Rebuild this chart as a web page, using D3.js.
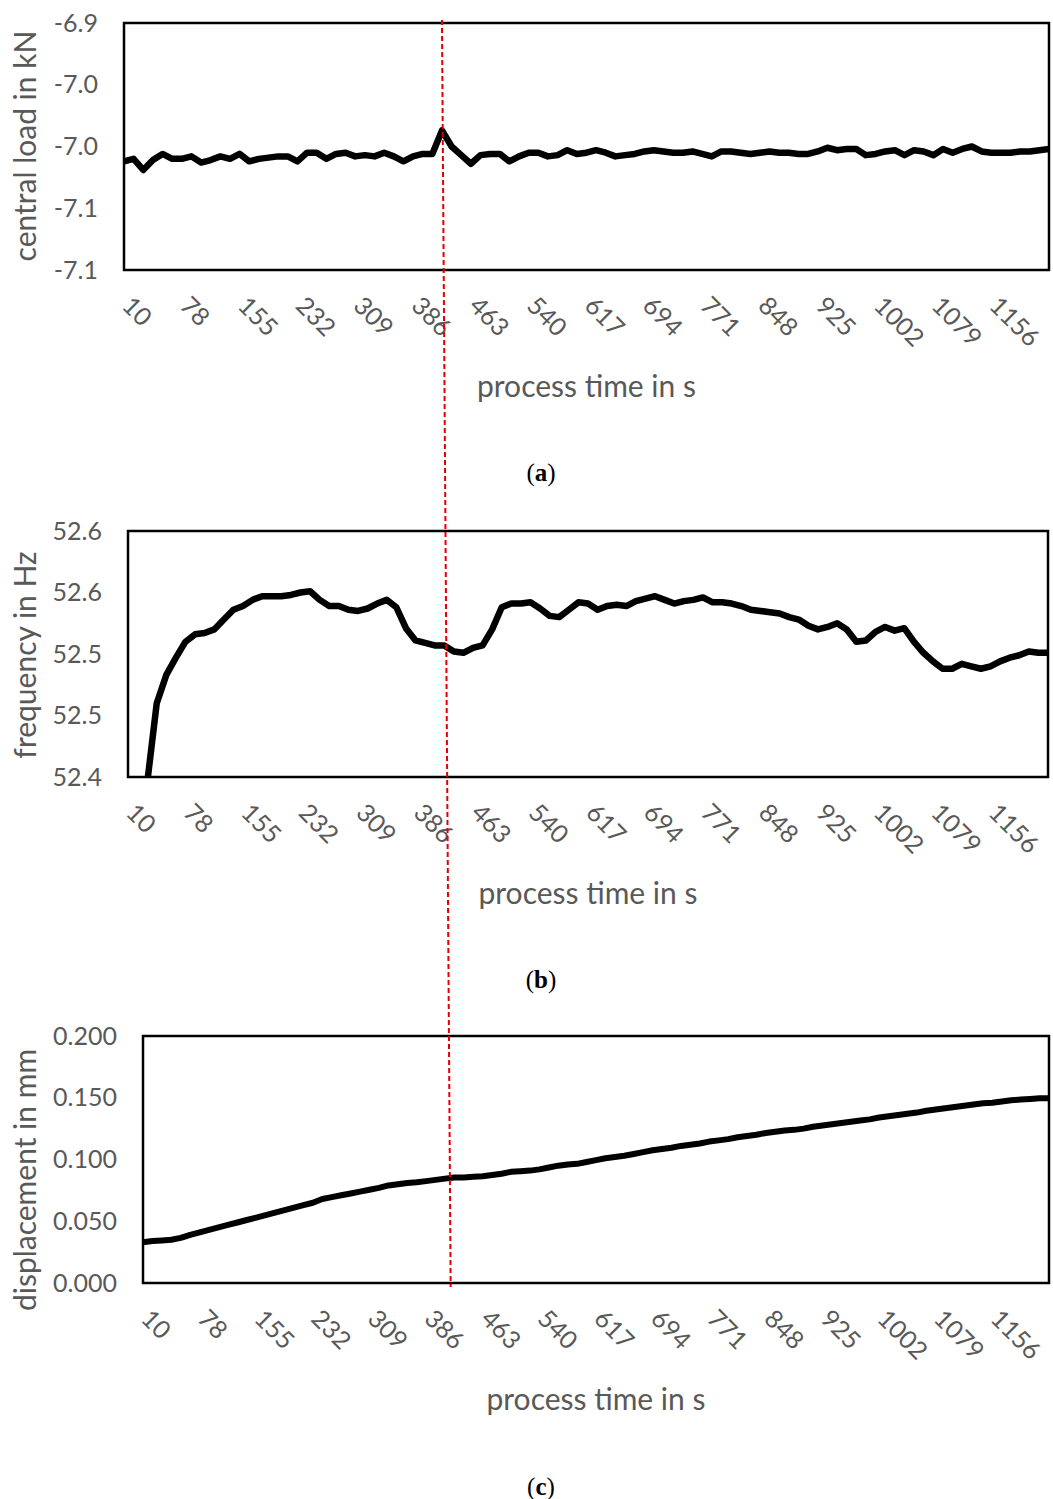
<!DOCTYPE html>
<html>
<head>
<meta charset="utf-8">
<script src="https://cdn.jsdelivr.net/npm/d3@7"></script>
<style>
  body { margin: 0; background: #fff; }
  svg { display: block; }
</style>
</head>
<body>
<div id="chart"></div>
<script>
// Category labels on the time axis (one label every 6 samples)
var timeLabels = ["10", "78", "155", "232", "309", "386", "463", "540", "617",
  "694", "771", "848", "925", "1002", "1079", "1156"];
var labelStep = 6;

// (a) central load in kN
var loadValues = [
  -7.012, -7.010, -7.019, -7.011, -7.006, -7.010, -7.010, -7.008, -7.013, -7.011,
  -7.008, -7.010, -7.006, -7.012, -7.010, -7.009, -7.008, -7.008, -7.012, -7.005,
  -7.005, -7.010, -7.006, -7.005, -7.008, -7.007, -7.008, -7.005, -7.008, -7.012,
  -7.008, -7.006, -7.006, -6.987, -7.000, -7.007, -7.014, -7.007, -7.006, -7.006,
  -7.012, -7.008, -7.005, -7.005, -7.008, -7.007, -7.003, -7.006, -7.005, -7.003,
  -7.005, -7.008, -7.007, -7.006, -7.004, -7.003, -7.004, -7.005, -7.005, -7.004,
  -7.006, -7.008, -7.004, -7.004, -7.005, -7.006, -7.005, -7.004, -7.005, -7.005,
  -7.006, -7.006, -7.004, -7.001, -7.003, -7.002, -7.002, -7.007, -7.006, -7.004,
  -7.003, -7.007, -7.003, -7.004, -7.007, -7.002, -7.005, -7.002, -7.000, -7.004,
  -7.005, -7.005, -7.005, -7.004, -7.004, -7.003, -7.002
];
var loadTicks = [-7.10, -7.05, -7.00, -6.95, -6.90];
var loadTickLabels = ["-7.1", "-7.1", "-7.0", "-7.0", "-6.9"];

// (b) frequency in Hz
var freqValues = [
  51.600, 52.000, 52.395, 52.460, 52.483, 52.497, 52.510, 52.516, 52.517, 52.520,
  52.528, 52.536, 52.539, 52.544, 52.547, 52.547, 52.547, 52.548, 52.550, 52.551,
  52.544, 52.539, 52.539, 52.536, 52.535, 52.537, 52.541, 52.544, 52.538, 52.521,
  52.511, 52.509, 52.507, 52.507, 52.502, 52.501, 52.505, 52.507, 52.520, 52.538,
  52.541, 52.541, 52.542, 52.537, 52.531, 52.530, 52.536, 52.542, 52.541, 52.536,
  52.539, 52.540, 52.539, 52.543, 52.545, 52.547, 52.544, 52.541, 52.543, 52.544,
  52.546, 52.542, 52.542, 52.541, 52.539, 52.536, 52.535, 52.534, 52.533, 52.530,
  52.528, 52.523, 52.520, 52.522, 52.525, 52.520, 52.510, 52.511, 52.518, 52.522,
  52.519, 52.521, 52.510, 52.501, 52.494, 52.488, 52.488, 52.492, 52.490, 52.488,
  52.490, 52.494, 52.497, 52.499, 52.502, 52.501, 52.501
];
var freqTicks = [52.40, 52.45, 52.50, 52.55, 52.60];
var freqTickLabels = ["52.4", "52.5", "52.5", "52.6", "52.6"];

// (c) displacement in mm
var dispValues = [
  0.0330, 0.0340, 0.0345, 0.0350, 0.0365, 0.0390, 0.0410, 0.0430, 0.0450, 0.0470,
  0.0490, 0.0510, 0.0530, 0.0550, 0.0570, 0.0590, 0.0610, 0.0630, 0.0650, 0.0680,
  0.0695, 0.0710, 0.0725, 0.0740, 0.0755, 0.0770, 0.0790, 0.0800, 0.0810, 0.0815,
  0.0825, 0.0835, 0.0845, 0.0855, 0.0855, 0.0860, 0.0865, 0.0875, 0.0885, 0.0900,
  0.0905, 0.0910, 0.0920, 0.0935, 0.0950, 0.0960, 0.0965, 0.0980, 0.0995, 0.1010,
  0.1020, 0.1030, 0.1045, 0.1060, 0.1075, 0.1085, 0.1095, 0.1110, 0.1120, 0.1130,
  0.1145, 0.1155, 0.1165, 0.1180, 0.1190, 0.1200, 0.1215, 0.1225, 0.1235, 0.1240,
  0.1250, 0.1265, 0.1275, 0.1285, 0.1295, 0.1305, 0.1315, 0.1325, 0.1340, 0.1350,
  0.1360, 0.1370, 0.1380, 0.1395, 0.1405, 0.1415, 0.1425, 0.1435, 0.1445, 0.1455,
  0.1460, 0.1470, 0.1480, 0.1485, 0.1490, 0.1495, 0.1495
];
var dispTicks = [0.000, 0.050, 0.100, 0.150, 0.200];
var dispTickLabels = ["0.000", "0.050", "0.100", "0.150", "0.200"];

// sample index of the marked event (red dashed line)
var markerTop = 33;
var markerBottom = 32.6;

var width = 1053, height = 1499;
var grey = "#595959";
var sans = "Lato, 'Open Sans', sans-serif";

var svg = d3.select("#chart").append("svg")
  .attr("width", width)
  .attr("height", height);

var panels = [
  { id: "a", left: 124, right: 1049, top: 23, bottom: 270, values: loadValues, lineWidth: 6.5,
    ticks: loadTicks, tickLabels: loadTickLabels, title: "central load in kN", titleY: 146, captionY: 472 },
  { id: "b", left: 128, right: 1048, top: 531, bottom: 777, values: freqValues, lineWidth: 6.5,
    ticks: freqTicks, tickLabels: freqTickLabels, title: "frequency in Hz", titleY: 655, captionY: 979 },
  { id: "c", left: 143, right: 1049, top: 1036, bottom: 1283, values: dispValues, lineWidth: 6,
    ticks: dispTicks, tickLabels: dispTickLabels, title: "displacement in mm", titleY: 1180, captionY: 1486 }
];

panels.forEach(function (p) {
  var n = p.values.length;
  p.x = d3.scaleLinear().domain([0, n - 1]).range([p.left, p.right]);
  p.y = d3.scaleLinear().domain([p.ticks[0], p.ticks[p.ticks.length - 1]]).range([p.bottom, p.top]);

  var g = svg.append("g");

  // clip so values below the axis minimum are cut like in Excel
  svg.append("clipPath").attr("id", "clip-" + p.id)
    .append("rect")
    .attr("x", p.left).attr("y", p.top)
    .attr("width", p.right - p.left).attr("height", p.bottom - p.top);

  // y axis (no ticks, no domain line)
  var yAxis = d3.axisLeft(p.y)
    .tickValues(p.ticks)
    .tickSize(0)
    .tickPadding(26)
    .tickFormat(function (d, i) { return p.tickLabels[i]; });

  g.append("g")
    .attr("transform", "translate(" + p.left + ",0)")
    .call(yAxis)
    .call(function (a) { a.select(".domain").remove(); })
    .selectAll("text")
    .attr("fill", grey)
    .style("font-family", sans)
    .style("font-size", "25px");

  // x tick labels, rotated 45 degrees
  g.append("g").selectAll("text")
    .data(timeLabels)
    .enter()
    .append("text")
    .attr("transform", function (d, i) {
      return "translate(" + (p.x(i * labelStep) + 3) + "," + (p.bottom + 31) + ") rotate(45)";
    })
    .attr("dy", "0.35em")
    .attr("text-anchor", "start")
    .attr("fill", grey)
    .style("font-family", sans)
    .style("font-size", "25px")
    .text(function (d) { return d; });

  // data line
  var line = d3.line()
    .x(function (d, i) { return p.x(i); })
    .y(function (d) { return p.y(d); });

  g.append("path")
    .datum(p.values)
    .attr("clip-path", "url(#clip-" + p.id + ")")
    .attr("fill", "none")
    .attr("stroke", "#000")
    .attr("stroke-width", p.lineWidth)
    .attr("stroke-linejoin", "round")
    .attr("stroke-linecap", "round")
    .attr("d", line);

  // plot frame
  g.append("rect")
    .attr("x", p.left).attr("y", p.top)
    .attr("width", p.right - p.left).attr("height", p.bottom - p.top)
    .attr("fill", "none")
    .attr("stroke", "#000")
    .attr("stroke-width", 2.5);

  // axis titles
  g.append("text")
    .attr("transform", "translate(36," + p.titleY + ") rotate(-90)")
    .attr("text-anchor", "middle")
    .attr("fill", grey)
    .style("font-family", sans)
    .style("font-size", "30px")
    .text(p.title);

  g.append("text")
    .attr("x", (p.left + p.right) / 2)
    .attr("y", p.bottom + 116)
    .attr("dy", "0.35em")
    .attr("text-anchor", "middle")
    .attr("fill", grey)
    .style("font-family", sans)
    .style("font-size", "30px")
    .text("process time in s");

  // caption (a), (b), (c)
  var cap = svg.append("text")
    .attr("x", 541)
    .attr("y", p.captionY)
    .attr("dy", "0.35em")
    .attr("text-anchor", "middle")
    .attr("fill", "#000")
    .style("font-family", "'Liberation Serif', 'DejaVu Serif', serif")
    .style("font-size", "25px");
  cap.append("tspan").text("(");
  cap.append("tspan").attr("font-weight", "bold").text(p.id);
  cap.append("tspan").text(")");
});

// red dashed marker line across all three panels
var pa = panels[0], pc = panels[2];
svg.append("line")
  .attr("x1", pa.x(markerTop)).attr("y1", pa.top - 3)
  .attr("x2", pc.x(markerBottom)).attr("y2", pc.bottom + 4)
  .attr("stroke", "#e00000")
  .attr("stroke-width", 2)
  .attr("stroke-dasharray", "5,3");
</script>
</body>
</html>
